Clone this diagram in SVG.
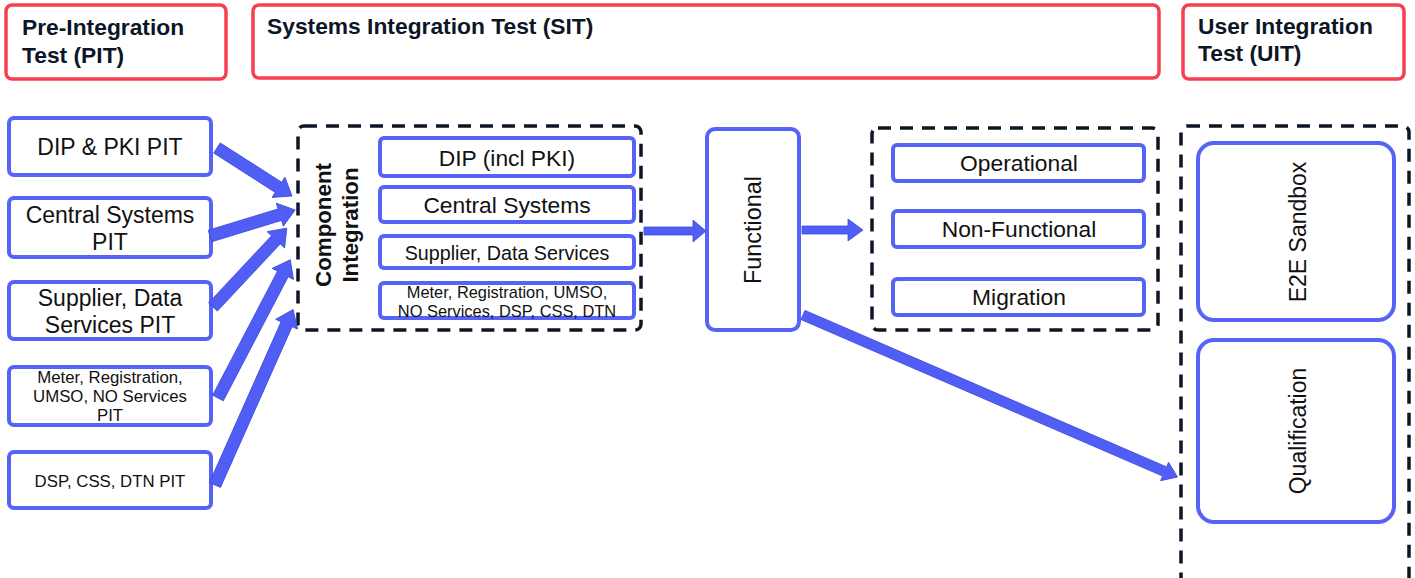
<svg xmlns="http://www.w3.org/2000/svg" width="1415" height="578" viewBox="0 0 1415 578">
<style>
text{font-family:"Liberation Sans",Arial,sans-serif;fill:#111}
.hdr{fill:#fff;stroke:#f6404f;stroke-width:3.5}
.ht{font-weight:bold;font-size:22.8px;fill:#0d1626}
.box{fill:#fff;stroke:#5563f7;stroke-width:4}
.dash{fill:none;stroke:#0d1626;stroke-width:3.5;stroke-dasharray:13 9}
.t{text-anchor:middle}
.arr{fill:#505ef5;stroke:#3e4bd8;stroke-width:0.8}
</style>
<g id="hdr-pit"><rect class="hdr" x="6" y="5" width="220" height="74" rx="6"/><text class="ht" x="22" y="35">Pre-Integration</text><text class="ht" x="22" y="63">Test (PIT)</text></g>
<g id="hdr-sit"><rect class="hdr" x="253" y="5" width="906" height="73" rx="6"/><text class="ht" x="267" y="34">Systems Integration Test (SIT)</text></g>
<g id="hdr-uit"><rect class="hdr" x="1183" y="5" width="221" height="74" rx="6"/><text class="ht" x="1198" y="34">User Integration</text><text class="ht" x="1198" y="61">Test (UIT)</text></g>

<g id="pit-dip"><rect class="box" x="9" y="118" width="202" height="57" rx="5"/><text class="t" x="110" y="155" font-size="23">DIP &amp; PKI PIT</text></g>
<g id="pit-central"><rect class="box" x="9" y="198" width="202" height="59" rx="5"/><text class="t" x="110" y="223" font-size="23">Central Systems</text><text class="t" x="110" y="250" font-size="23">PIT</text></g>
<g id="pit-supplier"><rect class="box" x="9" y="282" width="202" height="57" rx="5"/><text class="t" x="110" y="306" font-size="23">Supplier, Data</text><text class="t" x="110" y="333" font-size="23">Services PIT</text></g>
<g id="pit-meter"><rect class="box" x="9" y="367" width="202" height="58" rx="5"/><text class="t" x="110" y="383" font-size="16.8">Meter, Registration,</text><text class="t" x="110" y="402" font-size="16.8">UMSO, NO Services</text><text class="t" x="110" y="421" font-size="16.8">PIT</text></g>
<g id="pit-dsp"><rect class="box" x="9" y="452" width="202" height="56" rx="5"/><text class="t" x="110" y="487" font-size="16.8">DSP, CSS, DTN PIT</text></g>

<g id="component-integration">
<rect class="dash" x="298" y="126" width="343" height="204" rx="6"/>
<text transform="translate(331,225) rotate(-90)" class="t" font-size="22.3" font-weight="bold">Component</text>
<text transform="translate(358,225) rotate(-90)" class="t" font-size="22.3" font-weight="bold">Integration</text>
</g>
<g id="ci-dip"><rect class="box" x="380" y="138" width="254" height="38" rx="4"/><text class="t" x="507" y="166" font-size="22.8">DIP (incl PKI)</text></g>
<g id="ci-central"><rect class="box" x="380" y="187" width="254" height="35" rx="4"/><text class="t" x="507" y="213" font-size="22.8">Central Systems</text></g>
<g id="ci-supplier"><rect class="box" x="380" y="236" width="254" height="32" rx="4"/><text class="t" x="507" y="260" font-size="19.7">Supplier, Data Services</text></g>
<g id="ci-meter"><rect class="box" x="380" y="283" width="254" height="35" rx="4"/><text class="t" x="507" y="298" font-size="16.4">Meter, Registration, UMSO,</text><text class="t" x="507" y="317" font-size="16.4">NO Services, DSP, CSS, DTN</text></g>

<g id="functional"><rect class="box" x="707" y="129" width="92" height="201" rx="8"/><text transform="translate(761,230) rotate(-90)" class="t" font-size="23.4">Functional</text></g>

<g id="sit-other"><rect class="dash" x="872" y="128" width="286" height="202" rx="6"/></g>
<g id="operational"><rect class="box" x="893" y="145" width="251" height="36" rx="4"/><text class="t" x="1019" y="171" font-size="22.8">Operational</text></g>
<g id="non-functional"><rect class="box" x="893" y="211" width="251" height="36" rx="4"/><text class="t" x="1019" y="237" font-size="22.8">Non-Functional</text></g>
<g id="migration"><rect class="box" x="893" y="279" width="251" height="36" rx="4"/><text class="t" x="1019" y="305" font-size="22.8">Migration</text></g>

<g id="uit"><rect class="dash" x="1181" y="126" width="228" height="460" rx="6"/></g>
<g id="e2e-sandbox"><rect class="box" x="1198" y="143" width="196" height="177" rx="16"/><text transform="translate(1306,232) rotate(-90)" class="t" font-size="23">E2E Sandbox</text></g>
<g id="qualification"><rect class="box" x="1198" y="340" width="196" height="182" rx="16"/><text transform="translate(1306,431) rotate(-90)" class="t" font-size="23">Qualification</text></g>

<g id="connectors">
<polygon class="arr" transform="translate(217,148) rotate(32.6)" points="0,-6 73,-6 73,-12 89,0 73,12 73,6 0,6"/>
<polygon class="arr" transform="translate(210,236) rotate(-17)" points="0,-6 73,-6 73,-12 89,0 73,12 73,6 0,6"/>
<polygon class="arr" transform="translate(213,307) rotate(-46.9)" points="0,-6 92,-6 92,-12 108,0 92,12 92,6 0,6"/>
<polygon class="arr" transform="translate(218,398) rotate(-62.4)" points="0,-6 140,-6 140,-12 156,0 140,12 140,6 0,6"/>
<polygon class="arr" transform="translate(215,485) rotate(-66)" points="0,-6 176,-6 176,-12 192,0 176,12 176,6 0,6"/>
<polygon class="arr" points="644,227 693,227 693,220 706,231 693,242 693,235 644,235"/>
<polygon class="arr" points="802,226 848,226 848,219 863,230 848,241 848,234 802,234"/>
<polygon class="arr" transform="translate(803,315) rotate(23.4)" points="0,-5 394,-5 394,-10 408,0 394,10 394,5 0,5"/>
</g>
</svg>
